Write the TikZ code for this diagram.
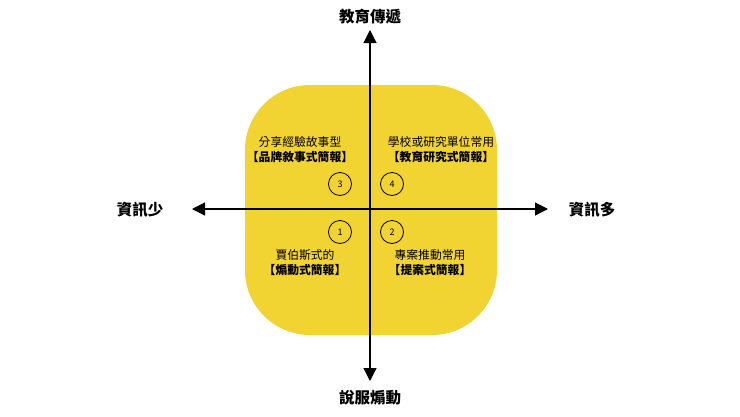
\documentclass[tikz,border=0pt]{standalone}
\usepackage{fontspec}
\setmainfont{Noto Sans CJK TC}
\usetikzlibrary{arrows.meta}
\definecolor{yel}{HTML}{F1D332}
\begin{document}
\begin{tikzpicture}[x=1pt,y=-1pt,
  axis/.style={line width=1.2pt,-{Triangle[length=13pt,width=13pt]}},
  albl/.style={font=\fontsize{15.5}{17}\selectfont\bfseries},
  txt/.style={font=\fontsize{11.8}{15}\selectfont,align=center},
  num/.style={draw,circle,line width=0.8pt,minimum size=23pt,inner sep=0pt,font=\fontsize{9}{10}\selectfont}]
\useasboundingbox (0,0) rectangle (740,416);
\fill[yel,rounded corners=65pt] (245,85) rectangle (497,335);
\coordinate (c) at (370,209);
\coordinate (t) at (370,30);
\coordinate (b) at (370,381);
\coordinate (l) at (192,209);
\coordinate (r) at (548,209);
\draw[axis] (c) -- (t);
\draw[axis] (c) -- (b);
\draw[axis] (c) -- (l);
\draw[axis] (c) -- (r);
\node[albl] (lt) at (370,17) {教育傳遞};
\node[albl] (lb) at (370,398) {說服煽動};
\node[albl] (ll) at (140,210) {資訊少};
\node[albl] (lr) at (592,210) {資訊多};
\node[txt] (q3) at (300,150) {分享經驗故事型\\\textbf{【品牌敘事式簡報】}};
\node[txt] (q4) at (441,150) {學校或研究單位常用\\\textbf{【教育研究式簡報】}};
\node[txt] (q1) at (305,263) {賈伯斯式的\\\textbf{【煽動式簡報】}};
\node[txt] (q2) at (430,263) {專案推動常用\\\textbf{【提案式簡報】}};
\node[num] (n3) at (340,184) {3};
\node[num] (n4) at (392,184) {4};
\node[num] (n1) at (340,232) {1};
\node[num] (n2) at (392,232) {2};
\end{tikzpicture}
\end{document}
